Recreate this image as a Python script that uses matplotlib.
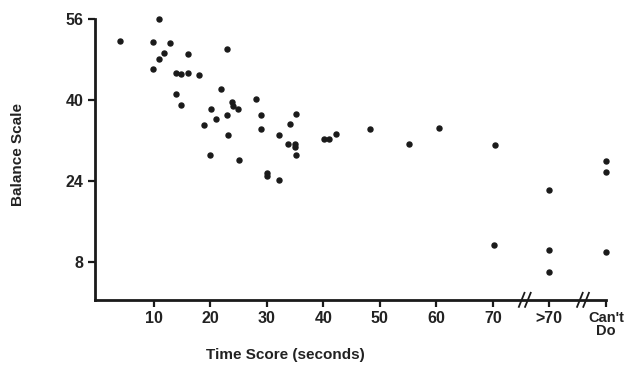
import matplotlib
matplotlib.use("Agg")
import matplotlib.pyplot as plt
from matplotlib.transforms import blended_transform_factory

plt.rcParams['font.family'] = ['Liberation Sans', 'DejaVu Sans']
plt.rcParams['font.weight'] = 'bold'

# time score in seconds (80 = ">70", 90 = "Can't Do"), balance scale score
time_score = [11.0, 4.0, 9.8, 12.9, 11.8, 10.9, 16.0, 22.9, 9.9, 13.9,
              14.9, 16.0, 18.1, 22.0, 13.9, 14.8, 23.9, 24.0, 25.0, 28.1,
              20.1, 22.9, 29.0, 35.2, 21.1, 18.9, 34.1, 29.0, 23.1, 32.1,
              33.8, 35.0, 35.0, 35.1, 20.0, 25.1, 30.1, 30.1, 32.1, 40.1,
              41.1, 42.3, 48.3, 55.2, 60.4, 70.4, 90, 90, 80, 70.2,
              80, 90, 80]
balance = [56.1, 51.6, 51.4, 51.3, 49.2, 48.2, 49.1, 50.0, 46.1, 45.4,
           45.1, 45.3, 45.0, 42.1, 41.1, 39.1, 39.6, 38.9, 38.3, 40.2,
           38.2, 37.1, 37.0, 37.2, 36.2, 35.1, 35.2, 34.2, 33.0, 33.1,
           31.3, 31.3, 30.8, 29.1, 29.2, 28.1, 25.5, 25.0, 24.1, 32.2,
           32.2, 33.3, 34.3, 31.3, 34.4, 31.2, 27.9, 25.7, 22.2, 11.4,
           10.3, 10.0, 6.1]

x_ticks = [10, 20, 30, 40, 50, 60, 70, 80, 90]
x_labels = ['10', '20', '30', '40', '50', '60', '70', '>70', "Can't\nDo"]
y_ticks = [8, 24, 40, 56]
breaks = [75.5, 85.8]

fig = plt.figure(figsize=(6.24, 3.67), dpi=100)
ax = fig.add_axes([0.152, 0.183, 0.819, 0.765])

ax.plot(time_score, balance, 'o', color='#1a1a1a', ms=3.6, clip_on=False)

ax.set_xlim(-0.4, 90)
ax.set_ylim(0.5, 56)
ax.set_xticks(x_ticks)
ax.set_xticklabels(x_labels, fontsize=11.5, fontweight='bold', color='#222222',
                   linespacing=0.95)
ax.get_xticklabels()[-1].set_fontsize(10.5)
ax.set_yticks(y_ticks)
ax.set_yticklabels([str(t) for t in y_ticks], fontsize=11.5, fontweight='bold', color='#222222')
ax.tick_params(axis='both', direction='out', length=5, width=1.6, color='#1a1a1a', pad=3)

for side in ['top', 'right']:
    ax.spines[side].set_visible(False)
for side in ['left', 'bottom']:
    ax.spines[side].set_linewidth(2)
    ax.spines[side].set_color('#1a1a1a')

# axis break marks
trans = blended_transform_factory(ax.transData, ax.transAxes)
for b in breaks:
    ax.plot([b - 0.9, b + 0.1], [-0.025, 0.025], color='#1a1a1a', lw=1.3, transform=trans, clip_on=False)
    ax.plot([b + 0.2, b + 1.2], [-0.025, 0.025], color='#1a1a1a', lw=1.3, transform=trans, clip_on=False)

ax.set_xlabel('Time Score (seconds)', fontsize=11, fontweight='bold', color='#222222')
ax.set_ylabel('Balance Scale', fontsize=11, fontweight='bold', color='#222222')
ax.xaxis.set_label_coords(0.372, -0.196)
ax.xaxis.label.set_verticalalignment('center')
ax.yaxis.set_label_coords(-0.15, 0.516)
ax.yaxis.label.set_verticalalignment('center')

fig.savefig('out.png', dpi=100, facecolor='white')
